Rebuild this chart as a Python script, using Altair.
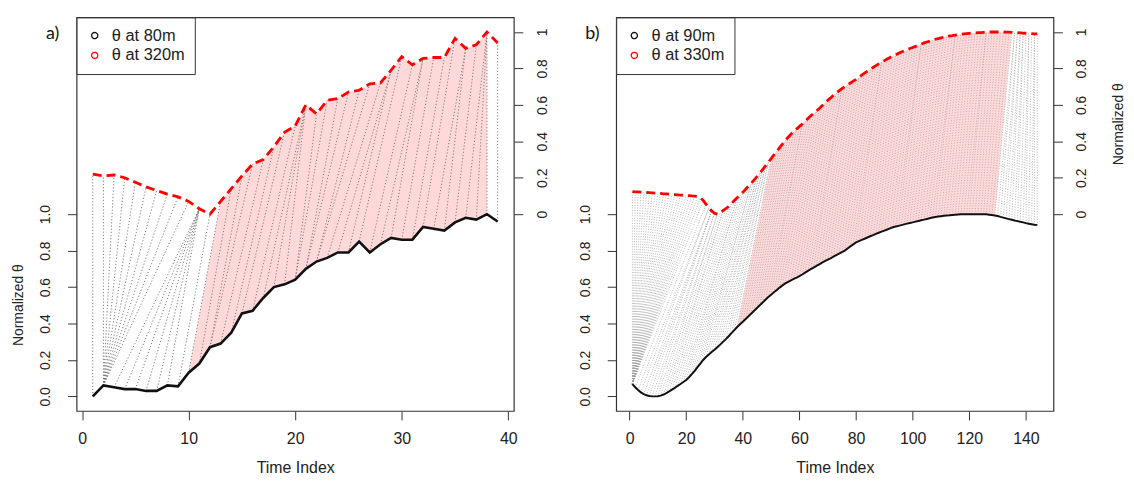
import altair as alt
import pandas as pd

FONT = "Liberation Sans"
TXT = "#222222"

# ---------------- panel a) ----------------
labels_a = ["θ at 80m", "θ at 320m"]
time_a = list(range(1, 40))
black_a = [0.00, 0.06, 0.05, 0.04, 0.04, 0.03, 0.03, 0.06, 0.055, 0.13,
           0.18, 0.27, 0.29, 0.35, 0.455, 0.47, 0.54, 0.60, 0.615, 0.64,
           0.70, 0.74, 0.76, 0.79, 0.79, 0.85, 0.79, 0.835, 0.87, 0.86,
           0.86, 0.93, 0.92, 0.91, 0.955, 0.98, 0.97, 1.00, 0.96]
red_a = [0.22, 0.21, 0.215, 0.20, 0.175, 0.15, 0.13, 0.11, 0.095, 0.07,
         0.03, 0.0, 0.07, 0.14, 0.21, 0.275, 0.30, 0.37, 0.45, 0.485,
         0.60, 0.55, 0.625, 0.635, 0.67, 0.68, 0.715, 0.72, 0.79, 0.865,
         0.82, 0.855, 0.86, 0.86, 0.965, 0.91, 0.93, 1.0, 0.94]
# warping path (black index, red index)
path_a_black = [1, 2, 2, 2, 2, 2, 2, 2, 2, 2, 3, 4, 5, 6, 7, 8, 9, 10, 11, 12, 12,
                13, 14, 15, 16, 17, 18, 19, 20, 20, 21, 21, 22, 22, 23, 24, 25, 26,
                27, 28, 29, 30, 31, 32, 33, 34, 35, 36, 37, 38, 39]
path_a_red = [1, 2, 3, 4, 5, 6, 7, 8, 9, 10, 11, 11, 11, 11, 11, 11, 12, 13, 14, 15, 16,
              17, 18, 19, 20, 21, 21, 21, 22, 23, 24, 25, 26, 27, 28, 29, 29, 30,
              31, 32, 32, 33, 34, 35, 36, 36, 37, 38, 38, 38, 39]
pink_a_black = [10, 38]
pink_a_red = [13, 38]

# ---------------- panel b) ----------------
labels_b = ["θ at 90m", "θ at 330m"]
time_b = list(range(1, 145))
black_b = [0.067, 0.05, 0.035, 0.022, 0.012, 0.006, 0.002, 0.0, 0.0, 0.001,
           0.004, 0.01, 0.018, 0.027, 0.037, 0.047, 0.058, 0.068, 0.079, 0.09,
           0.105, 0.122, 0.14, 0.16, 0.18, 0.2, 0.216, 0.23, 0.243, 0.256,
           0.27, 0.284, 0.299, 0.314, 0.33, 0.347, 0.364, 0.381, 0.396, 0.41,
           0.425, 0.44, 0.455, 0.47, 0.485, 0.5, 0.515, 0.53, 0.545, 0.558,
           0.571, 0.584, 0.597, 0.609, 0.62, 0.629, 0.637, 0.645, 0.652, 0.66,
           0.669, 0.679, 0.689, 0.698, 0.707, 0.716, 0.725, 0.734, 0.742, 0.75,
           0.758, 0.767, 0.775, 0.783, 0.792, 0.8, 0.812, 0.823, 0.834, 0.845,
           0.852, 0.859, 0.865, 0.872, 0.879, 0.885, 0.892, 0.898, 0.904, 0.91,
           0.916, 0.922, 0.928, 0.932, 0.936, 0.94, 0.944, 0.948, 0.952, 0.955,
           0.959, 0.963, 0.967, 0.97, 0.974, 0.978, 0.982, 0.985, 0.987, 0.989,
           0.991, 0.993, 0.994, 0.996, 0.997, 0.998, 0.999, 0.999, 1.0, 1.0,
           1.0, 1.0, 1.0, 1.0, 0.999, 0.999, 0.997, 0.995, 0.993, 0.99,
           0.985, 0.981, 0.977, 0.973, 0.969, 0.965, 0.962, 0.958, 0.955, 0.951,
           0.948, 0.945, 0.942, 0.94]
red_b = [0.124, 0.123, 0.122, 0.121, 0.12, 0.119, 0.118, 0.117, 0.116, 0.115,
         0.114, 0.112, 0.111, 0.11, 0.108, 0.107, 0.106, 0.105, 0.104, 0.103,
         0.102, 0.1, 0.099, 0.097, 0.09, 0.075, 0.055, 0.035, 0.018, 0.005,
         0.0, 0.008, 0.02, 0.03, 0.042, 0.058, 0.075, 0.09, 0.105, 0.12,
         0.137, 0.154, 0.17, 0.188, 0.206, 0.225, 0.245, 0.265, 0.285, 0.305,
         0.325, 0.345, 0.365, 0.385, 0.405, 0.422, 0.439, 0.455, 0.468, 0.482,
         0.495, 0.51, 0.525, 0.54, 0.553, 0.567, 0.58, 0.595, 0.61, 0.625,
         0.638, 0.652, 0.665, 0.677, 0.689, 0.7, 0.71, 0.72, 0.73, 0.74,
         0.752, 0.763, 0.774, 0.785, 0.795, 0.805, 0.815, 0.825, 0.834, 0.843,
         0.852, 0.86, 0.868, 0.875, 0.883, 0.89, 0.896, 0.903, 0.909, 0.915,
         0.921, 0.927, 0.934, 0.94, 0.945, 0.95, 0.955, 0.96, 0.964, 0.968,
         0.972, 0.975, 0.978, 0.98, 0.983, 0.985, 0.987, 0.989, 0.991, 0.993,
         0.994, 0.995, 0.996, 0.997, 0.998, 0.999, 1.0, 1.0, 1.0, 1.0,
         1.0, 1.0, 0.999, 0.999, 0.998, 0.997, 0.996, 0.995, 0.994, 0.993,
         0.992, 0.991, 0.99, 0.99]
# black index 1 is matched to red indices 1..26
fan_b_red = list(range(1, 27))
# red index matched to black indices 2..144
match_b = [27, 28, 28, 29, 29, 29, 30, 30, 31, 31,
           32, 33, 33, 34, 35, 36, 37, 38, 38, 39,
           40, 41, 42, 43, 43, 44, 45, 45, 46, 46,
           47, 47, 48, 48, 49, 49,
           50, 51, 52, 53, 54, 55, 56, 57, 58, 59, 60, 61,
           61, 62, 63, 64, 65, 66, 67, 68, 69, 70, 71, 72, 73, 74, 75,
           75, 76, 77, 78, 79, 80, 81, 82, 83, 84, 85, 86, 87, 88, 89,
           89, 90, 91, 92, 93, 94, 95, 96, 97, 98, 99, 100, 101, 102, 103,
           103, 104, 105, 106, 107, 108, 109, 110, 111, 112, 113, 114, 115,
           115, 116, 117, 118, 119, 120, 121, 122, 123, 124, 125, 126,
           126, 127, 128, 129, 130, 131, 132, 133, 134, 135,
           136, 136, 137, 137, 138, 138, 139, 139, 140, 141, 141, 142, 143, 143, 144]
path_b_black = [1] * len(fan_b_red) + list(range(2, 145))
path_b_red = fan_b_red + match_b
pink_b_black = [38, 129]
pink_b_red = [50, 135]

Y_DOMAIN = [-0.08, 2.08]


def panel(time, black, red, pb, pr, pink_black, pink_red, labels, xdom, xticks,
          tag, left_title, right_title, black_width, lab_pad_r, title_pad_r,
          rule_color, rule_width, rule_dash):
    xs = alt.Scale(domain=xdom, nice=False, zero=False)
    xax = alt.Axis(values=xticks, title="Time Index", grid=False, domain=False,
                   tickSize=9, tickColor="#333", labelPadding=11, labelFontSize=16,
                   labelFont=FONT, labelColor=TXT, titleFont=FONT, titleFontSize=16,
                   titleFontWeight="normal", titleColor=TXT, titlePadding=13,
                   labelFlush=False, labelOverlap=False)

    def ys():
        return alt.Scale(domain=Y_DOMAIN, nice=False, zero=False)

    left_kw = dict(title=left_title) if left_title else dict(title=None)
    yl = alt.Axis(orient="left", values=[0, 0.2, 0.4, 0.6, 0.8, 1.0], format=".1f",
                  grid=False, domain=False, tickSize=9, tickColor="#333",
                  labelAngle=270, labelAlign="center", labelBaseline="bottom",
                  labelPadding=15, labelFontSize=14, labelFont=FONT, labelColor=TXT,
                  titleFont=FONT, titleFontSize=14, titleFontWeight="normal",
                  titleColor=TXT, titlePadding=13, titleY=289, **left_kw)
    right_kw = dict(title=right_title) if right_title else dict(title=None)
    yr = alt.Axis(orient="right", values=[1, 1.2, 1.4, 1.6, 1.8, 2.0],
                  labelExpr="datum.value == 1 ? '0' : (datum.value == 2 ? '1' : format(datum.value - 1, '.1f'))",
                  grid=False, domain=False, tickSize=9, tickColor="#333",
                  labelAngle=270, labelAlign="center", labelBaseline="top",
                  labelPadding=lab_pad_r, labelFontSize=14, labelFont=FONT, labelColor=TXT,
                  titleFont=FONT, titleFontSize=14, titleFontWeight="normal",
                  titleColor=TXT, titleAngle=270, titleBaseline="top",
                  titlePadding=title_pad_r, titleY=107, **right_kw)

    cs = alt.Scale(domain=labels, range=["#111111", "#ff0000"])
    leg = alt.Legend(orient="top-left", title=None, offset=0, padding=10,
                     rowPadding=3, strokeColor="#333", fillColor="white",
                     symbolType="circle", symbolSize=38, symbolStrokeWidth=1.3,
                     symbolFillColor="white", symbolDash=[1, 0],
                     labelFont=FONT, labelFontSize=16.5, labelColor=TXT, labelOffset=9)

    blk_df = pd.DataFrame({"x": time, "v": black, "s": labels[0]})
    red_df = pd.DataFrame({"x": time, "v": red, "s": labels[1]})
    seg_df = pd.DataFrame({"xb": pb, "yb": [black[i - 1] for i in pb],
                           "xr": pr, "vr": [red[j - 1] for j in pr]})

    poly_rows = []
    k = 0
    for i in range(pink_black[0], pink_black[1] + 1):
        poly_rows.append({"x": i, "v": black[i - 1], "off": 0, "o": k})
        k += 1
    for j in range(pink_red[1], pink_red[0] - 1, -1):
        poly_rows.append({"x": j, "v": red[j - 1], "off": 1, "o": k})
        k += 1
    poly_df = pd.DataFrame(poly_rows)

    poly = alt.Chart(poly_df).transform_calculate(y="datum.v + datum.off").mark_line(
        filled=True, color="#ffd9d9", strokeWidth=0, opacity=1
    ).encode(
        x=alt.X("x:Q", scale=xs, axis=xax),
        y=alt.Y("y:Q", scale=ys(), axis=None),
        order=alt.Order("o:Q"),
    )

    rules = alt.Chart(seg_df).transform_calculate(yr="datum.vr + 1").mark_rule(
        color=rule_color, strokeDash=rule_dash, strokeWidth=rule_width
    ).encode(
        x=alt.X("xb:Q", scale=xs, axis=xax),
        x2="xr:Q",
        y=alt.Y("yb:Q", scale=ys(), axis=None),
        y2="yr:Q",
    )

    bl = alt.Chart(blk_df).mark_line(strokeWidth=black_width).encode(
        x=alt.X("x:Q", scale=xs, axis=xax),
        y=alt.Y("v:Q", scale=ys(), axis=yl),
        color=alt.Color("s:N", scale=cs, legend=leg),
    )

    rl = alt.Chart(red_df).transform_calculate(y="datum.v + 1").mark_line(
        strokeWidth=2.8, strokeDash=[9, 5]
    ).encode(
        x=alt.X("x:Q", scale=xs, axis=xax),
        y=alt.Y("y:Q", scale=ys(), axis=yr),
        color=alt.Color("s:N", scale=cs, legend=leg),
    )

    tag_layer = alt.Chart(pd.DataFrame({"t": [tag]})).mark_text(
        font="Lato", fontSize=18, color="#111", align="center", baseline="middle"
    ).encode(x=alt.value(-24), y=alt.value(17), text="t:N")

    return alt.layer(poly, rules, bl, rl, tag_layer).resolve_scale(
        y="independent"
    ).properties(width=440, height=396)


pa = panel(time_a, black_a, red_a, path_a_black, path_a_red, pink_a_black, pink_a_red,
           labels_a, [-0.52, 40.52], [0, 10, 20, 30, 40], "a)",
           "Normalized θ", None, 2.6, 13, 20, "#707070", 0.9, [1.2, 2.0])
pb_ = panel(time_b, black_b, red_b, path_b_black, path_b_red, pink_b_black, pink_b_red,
            labels_b, [-4.72, 149.72], [0, 20, 40, 60, 80, 100, 120, 140], "b)",
            None, "Normalized θ", 2.0, 12, 23, "#9a9a9a", 0.7, [1.0, 1.6])

chart = alt.hconcat(pa, pb_, spacing=103, bounds="flush").resolve_scale(
    x="independent", y="independent", color="independent"
).resolve_legend(color="independent").properties(
    padding={"left": 3, "top": 6, "right": 0, "bottom": 0}
).configure_view(stroke="#333", strokeWidth=1.2)

chart.save("out.html", embed_options={"renderer": "svg", "actions": False})
